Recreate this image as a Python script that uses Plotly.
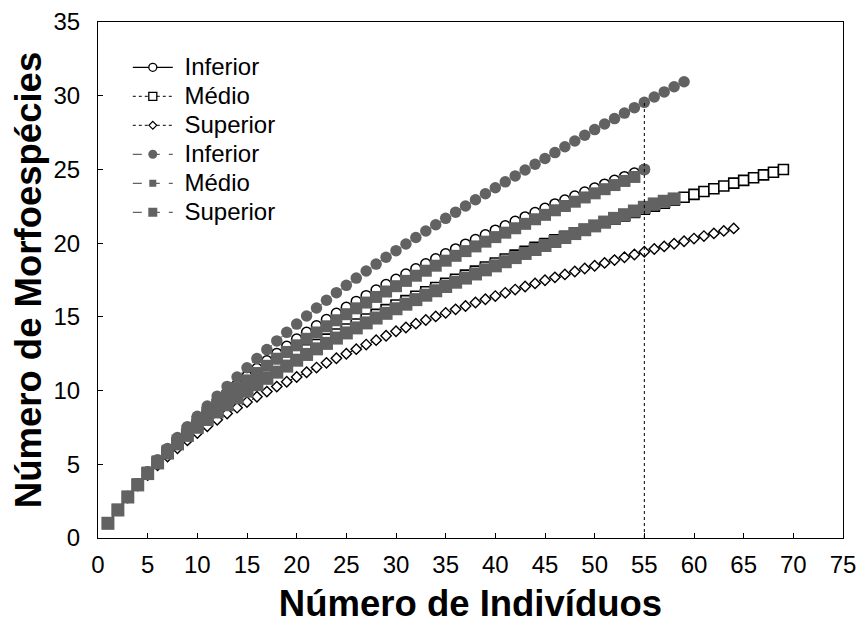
import plotly.graph_objects as go

# ---------------- data ----------------
n_inf_open = list(range(1, 56))
inf_open = [1.00, 1.92, 2.81, 3.66, 4.47, 5.24, 5.98, 6.69, 7.37, 8.02,
            8.65, 9.26, 9.85, 10.42, 10.97, 11.50, 12.02, 12.52, 13.01, 13.49,
            13.95, 14.39, 14.82, 15.24, 15.65, 16.05, 16.44, 16.82, 17.19, 17.55,
            17.91, 18.26, 18.60, 18.94, 19.28, 19.61, 19.93, 20.25, 20.57, 20.88,
            21.18, 21.48, 21.78, 22.08, 22.37, 22.66, 22.93, 23.20, 23.47, 23.74,
            24.00, 24.26, 24.51, 24.76, 25.00]

n_med_open = list(range(1, 70))
med_open = [1.00, 1.91, 2.79, 3.62, 4.40, 5.13, 5.81, 6.45, 7.05, 7.62,
            8.17, 8.70, 9.21, 9.71, 10.19, 10.66, 11.12, 11.57, 11.99, 12.40,
            12.77, 13.13, 13.49, 13.84, 14.18, 14.52, 14.85, 15.17, 15.49, 15.80,
            16.10, 16.40, 16.70, 16.99, 17.27, 17.55, 17.83, 18.10, 18.38, 18.65,
            18.92, 19.19, 19.45, 19.71, 19.97, 20.22, 20.46, 20.70, 20.93, 21.17,
            21.40, 21.63, 21.85, 22.08, 22.30, 22.51, 22.71, 22.91, 23.11, 23.31,
            23.50, 23.69, 23.88, 24.07, 24.26, 24.44, 24.63, 24.81, 25.00]

n_sup_open = list(range(1, 65))
sup_open = [1.00, 1.90, 2.75, 3.55, 4.27, 4.93, 5.53, 6.09, 6.62, 7.12,
            7.58, 8.02, 8.44, 8.84, 9.22, 9.58, 9.93, 10.27, 10.60, 10.92,
            11.24, 11.56, 11.88, 12.19, 12.50, 12.81, 13.12, 13.42, 13.72, 14.02,
            14.28, 14.54, 14.79, 15.03, 15.27, 15.51, 15.74, 15.97, 16.19, 16.41,
            16.63, 16.85, 17.06, 17.27, 17.48, 17.68, 17.88, 18.08, 18.28, 18.47,
            18.66, 18.85, 19.04, 19.23, 19.42, 19.60, 19.78, 19.96, 20.13, 20.31,
            20.48, 20.66, 20.83, 21.00]

n_inf_fill = list(range(1, 60))
inf_fill = [1.00, 1.92, 2.82, 3.68, 4.50, 5.30, 6.07, 6.82, 7.55, 8.26,
            8.95, 9.62, 10.28, 10.92, 11.55, 12.17, 12.78, 13.37, 13.95, 14.51,
            15.06, 15.60, 16.13, 16.64, 17.14, 17.63, 18.11, 18.58, 19.04, 19.49,
            19.94, 20.38, 20.82, 21.25, 21.68, 22.10, 22.52, 22.94, 23.35, 23.76,
            24.16, 24.56, 24.96, 25.35, 25.74, 26.14, 26.54, 26.93, 27.32, 27.70,
            28.08, 28.45, 28.82, 29.19, 29.55, 29.91, 30.26, 30.61, 30.95]

n_med_fill = list(range(1, 56))
med_fill = [1.00, 1.92, 2.80, 3.64, 4.44, 5.20, 5.92, 6.61, 7.27, 7.89,
            8.49, 9.07, 9.63, 10.17, 10.69, 11.19, 11.68, 12.16, 12.62, 13.07,
            13.51, 13.94, 14.36, 14.77, 15.18, 15.58, 15.97, 16.35, 16.72, 17.08,
            17.44, 17.79, 18.13, 18.47, 18.81, 19.14, 19.46, 19.78, 20.10, 20.41,
            20.71, 21.01, 21.31, 21.62, 21.92, 22.23, 22.52, 22.81, 23.10, 23.38,
            23.66, 23.94, 24.22, 24.49, 25.00]

n_sup_fill = list(range(1, 59))
sup_fill = [1.00, 1.90, 2.78, 3.60, 4.37, 5.09, 5.76, 6.38, 6.96, 7.51,
            8.04, 8.55, 9.04, 9.51, 9.96, 10.40, 10.83, 11.25, 11.66, 12.06,
            12.45, 12.83, 13.20, 13.56, 13.91, 14.25, 14.59, 14.92, 15.24, 15.55,
            15.86, 16.17, 16.47, 16.77, 17.06, 17.35, 17.63, 17.91, 18.19, 18.46,
            18.74, 19.02, 19.30, 19.57, 19.84, 20.11, 20.38, 20.65, 20.91, 21.17,
            21.43, 21.68, 21.93, 22.18, 22.43, 22.66, 22.84, 23.00]

ref_n = 55
series_names = ["Inferior", "Médio", "Superior", "Inferior", "Médio", "Superior"]
x_title = "Número de Indivíduos"
y_title = "Número de Morfoespécies"

# ---------------- style ----------------
GRAY = "#626262"
FONT = "Liberation Sans, Arial, sans-serif"

fig = go.Figure()

# open (black outline) series
fig.add_trace(go.Scatter(x=n_inf_open, y=inf_open, mode="lines+markers", showlegend=False,
                         line=dict(color="black", width=1.5),
                         marker=dict(symbol="circle", size=10, color="white",
                                     line=dict(color="black", width=1.5))))
fig.add_trace(go.Scatter(x=n_med_open, y=med_open, mode="lines+markers", showlegend=False,
                         line=dict(color="black", width=1, dash="dot"),
                         marker=dict(symbol="square", size=10, color="white",
                                     line=dict(color="black", width=1.6))))
fig.add_trace(go.Scatter(x=n_sup_open, y=sup_open, mode="lines+markers", showlegend=False,
                         line=dict(color="black", width=1, dash="dot"),
                         marker=dict(symbol="diamond", size=8, color="white",
                                     line=dict(color="black", width=1.4))))
# filled gray series
fig.add_trace(go.Scatter(x=n_inf_fill, y=inf_fill, mode="lines+markers", showlegend=False,
                         line=dict(color=GRAY, width=1, dash="dash"),
                         marker=dict(symbol="circle", size=11.5, color=GRAY, line=dict(width=0))))
med_symbols = ["square"] * (len(med_fill) - 1) + ["circle"]
fig.add_trace(go.Scatter(x=n_med_fill, y=med_fill, mode="lines+markers", showlegend=False,
                         line=dict(color=GRAY, width=1, dash="dash"),
                         marker=dict(symbol=med_symbols, size=12, color=GRAY, line=dict(width=0))))
fig.add_trace(go.Scatter(x=n_sup_fill, y=sup_fill, mode="lines+markers", showlegend=False,
                         line=dict(color=GRAY, width=1, dash="dash"),
                         marker=dict(symbol="square", size=13, color=GRAY, line=dict(width=0))))

# vertical reference line at n = 55
fig.add_trace(go.Scatter(x=[ref_n, ref_n], y=[0, inf_fill[ref_n - 1]], mode="lines",
                         showlegend=False, hoverinfo="skip",
                         line=dict(color="black", width=1, dash="dot")))

# legend entries
leg = [
    dict(symbol="circle", size=8, color="white", lc="black", lw=1.3, line=dict(color="black", width=1.2)),
    dict(symbol="square", size=8, color="white", lc="black", lw=1.3, line=dict(color="black", width=1, dash="dot")),
    dict(symbol="diamond", size=6, color="white", lc="black", lw=1.2, line=dict(color="black", width=1, dash="dot")),
    dict(symbol="circle", size=9, color=GRAY, lc=GRAY, lw=0, line=dict(color=GRAY, width=1.2, dash="dash")),
    dict(symbol="square", size=7, color=GRAY, lc=GRAY, lw=0, line=dict(color=GRAY, width=1.2, dash="dash")),
    dict(symbol="square", size=9, color=GRAY, lc=GRAY, lw=0, line=dict(color=GRAY, width=1.2, dash="dash")),
]
for name, s in zip(series_names, leg):
    fig.add_trace(go.Scatter(x=[None], y=[None], mode="lines+markers",
                             name='<span style="font-size:24px"> ' + name + '</span>',
                             line=s["line"],
                             marker=dict(symbol=s["symbol"], size=s["size"], color=s["color"],
                                         line=dict(color=s["lc"], width=s["lw"]))))

axis_common = dict(showline=True, linecolor="black", linewidth=1, mirror=True,
                   ticks="inside", ticklen=5, tickcolor="black", tickwidth=1,
                   showgrid=False, zeroline=False, automargin=False,
                   tickfont=dict(family=FONT, size=24, color="black"))

fig.update_layout(
    width=861, height=624,
    margin=dict(l=98, r=18, t=22, b=86),
    paper_bgcolor="white", plot_bgcolor="white",
    font=dict(family=FONT, color="black"),
    xaxis=dict(range=[0, 75], dtick=5, tick0=0, ticklabelstandoff=5,
               title=dict(text="<b>" + x_title + "</b>", font=dict(family=FONT, size=36.5),
                          standoff=18),
               **axis_common),
    yaxis=dict(range=[0, 35], dtick=5, tick0=0, ticklabelstandoff=12,
               title=dict(text="<b>" + y_title + "</b>", font=dict(family=FONT, size=36.5),
                          standoff=0),
               **axis_common),
    legend=dict(x=0.04, y=0.95, xanchor="left", yanchor="top",
                bgcolor="rgba(0,0,0,0)", borderwidth=0, tracegroupgap=0,
                itemwidth=40, font=dict(family=FONT, size=20, color="black")),
    showlegend=True,
)

fig.write_html("out.html")
